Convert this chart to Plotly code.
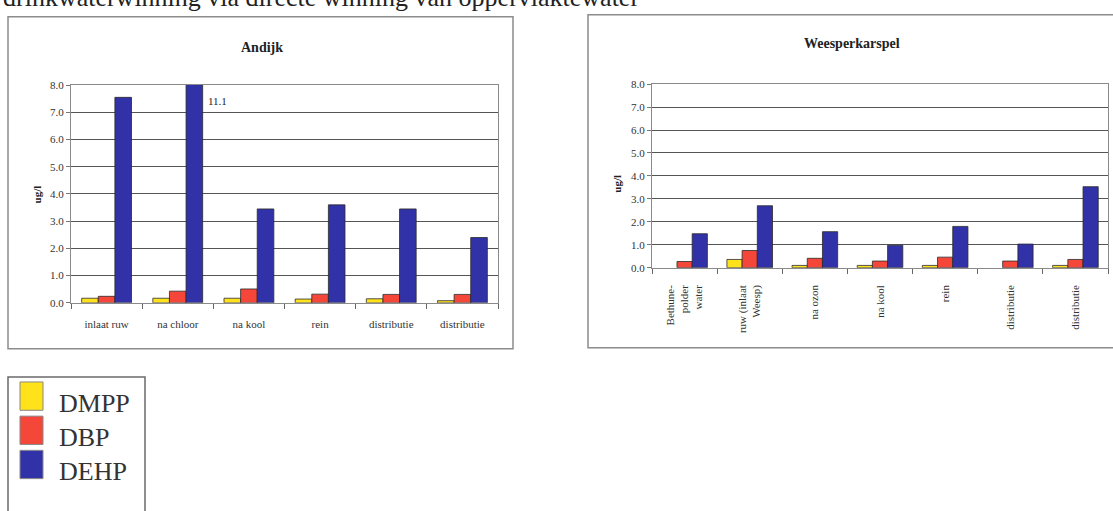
import plotly.graph_objects as go

# --- data -----------------------------------------------------------------
series_names = ["DMPP", "DBP", "DEHP"]
series_colors = ["#FFE21A", "#F4473A", "#3232A8"]

andijk_categories = ["inlaat ruw", "na chloor", "na kool", "rein", "distributie", "distributie"]
andijk_dmpp = [0.17, 0.17, 0.17, 0.14, 0.15, 0.08]
andijk_dbp = [0.24, 0.43, 0.51, 0.32, 0.31, 0.31]
andijk_dehp = [7.55, 11.1, 3.45, 3.6, 3.45, 2.4]

weesp_categories = ["Bethune-<br>polder<br>water", "ruw (inlaat<br>Weesp)", "na ozon",
                    "na kool", "rein", "distributie", "distributie"]
weesp_dmpp = [None, 0.36, 0.1, 0.1, 0.1, None, 0.1]
weesp_dbp = [0.27, 0.75, 0.41, 0.29, 0.46, 0.29, 0.36]
weesp_dehp = [1.48, 2.7, 1.57, 0.98, 1.8, 1.03, 3.53]

y_ticks = [0, 1, 2, 3, 4, 5, 6, 7, 8]

W, H = 1113, 511
SERIF = "Liberation Serif, Times New Roman, serif"


def px(x):
    return x / W


def py(y):
    return 1 - y / H


fig = go.Figure()

charts = [
    ("x", "y", andijk_categories, [andijk_dmpp, andijk_dbp, andijk_dehp]),
    ("x2", "y2", weesp_categories, [weesp_dmpp, weesp_dbp, weesp_dehp]),
]
for xa, ya, cats, values in charts:
    xs = list(range(len(cats)))
    for name, color, vals in zip(series_names, series_colors, values):
        fig.add_trace(go.Bar(
            x=xs, y=vals, name=name, xaxis=xa, yaxis=ya,
            marker=dict(color=color, line=dict(color="#2a2a2a", width=0.8)),
            showlegend=False,
        ))


def x_axis(domain, cats, angle, standoff):
    n = len(cats)
    return dict(
        domain=domain, range=[-0.5, n - 0.5],
        tickvals=list(range(n)), ticktext=cats, tickangle=angle,
        ticks="", ticklabelstandoff=standoff,
        minor=dict(tickvals=[i - 0.5 for i in range(n + 1)], ticks="outside",
                   ticklen=5, tickcolor="#666", showgrid=False),
        showgrid=False, zeroline=False,
        showline=True, linecolor="#8a8a8a", linewidth=1, mirror=True,
        tickfont=dict(family=SERIF, size=11, color="#333"),
        fixedrange=True,
    )


def y_axis(domain, anchor):
    return dict(
        domain=domain, anchor=anchor, range=[0, 8],
        tickvals=y_ticks, tickformat=".1f",
        ticks="outside", ticklen=4, tickcolor="#777",
        showgrid=True, gridcolor="#555", gridwidth=1, zeroline=False,
        showline=True, linecolor="#8a8a8a", linewidth=1, mirror=True,
        tickfont=dict(family=SERIF, size=11, color="#333"),
        fixedrange=True,
    )


fig.update_layout(
    width=W, height=H,
    margin=dict(l=0, r=0, t=0, b=0),
    paper_bgcolor="white", plot_bgcolor="white",
    barmode="group", bargap=0.3, bargroupgap=0,
    xaxis=x_axis([px(71), px(498)], andijk_categories, 0, 11),
    yaxis=y_axis([py(304), py(81)], "x"),
    xaxis2=dict(x_axis([px(652), px(1108)], weesp_categories, -90, 12), anchor="y2"),
    yaxis2=y_axis([py(268), py(80)], "x2"),
)
fig.layout.xaxis.anchor = "y"

shapes = [
    # chart frames
    dict(type="rect", xref="paper", yref="paper", x0=px(8), x1=px(513), y0=py(351), y1=py(11),
         line=dict(color="#8c8c8c", width=1.5)),
    dict(type="rect", xref="paper", yref="paper", x0=px(588), x1=px(1125), y0=py(350), y1=py(9),
         line=dict(color="#8c8c8c", width=1.5)),
    # legend frame
    dict(type="rect", xref="paper", yref="paper", x0=px(8), x1=px(145), y0=py(530), y1=py(380),
         line=dict(color="#6a6a6a", width=1.5)),
]

annotations = [
    dict(text="drinkwaterwinning via directe winning van oppervlaktewater",
         xref="paper", yref="paper", x=px(1), y=py(8), xanchor="left", yanchor="bottom",
         showarrow=False, font=dict(family=SERIF, size=26, color="#222")),
    dict(text="<b>Andijk</b>", xref="paper", yref="paper", x=px(262), y=py(42),
         xanchor="center", yanchor="middle", showarrow=False,
         font=dict(family=SERIF, size=14, color="#222")),
    dict(text="<b>Weesperkarspel</b>", xref="paper", yref="paper", x=px(852), y=py(38),
         xanchor="center", yanchor="middle", showarrow=False,
         font=dict(family=SERIF, size=14, color="#222")),
    dict(text="<b>ug/l</b>", xref="paper", yref="paper", x=px(37), y=py(193),
         xanchor="center", yanchor="middle", textangle=-90, showarrow=False,
         font=dict(family=SERIF, size=11, color="#222")),
    dict(text="<b>ug/l</b>", xref="paper", yref="paper", x=px(617), y=py(182),
         xanchor="center", yanchor="middle", textangle=-90, showarrow=False,
         font=dict(family=SERIF, size=11, color="#222")),
    # value of the clipped DEHP bar after chlorination
    dict(text=f"{andijk_dehp[1]}", xref="x", yref="y", x=1, y=7.4, xshift=40,
         xanchor="center", yanchor="middle", showarrow=False,
         font=dict(family=SERIF, size=11, color="#222")),
]

# manual legend
for i, (name, color) in enumerate(zip(series_names, series_colors)):
    top = 385 + i * 35
    shapes.append(dict(type="rect", xref="paper", yref="paper",
                       x0=px(20), x1=px(43), y0=py(top + 29), y1=py(top),
                       fillcolor=color, line=dict(color="#888", width=1)))
    annotations.append(dict(text=name, xref="paper", yref="paper", x=px(57), y=py(top + 22),
                            xanchor="left", yanchor="middle", showarrow=False,
                            font=dict(family=SERIF, size=26, color="#333")))

fig.update_layout(shapes=shapes, annotations=annotations)

fig.write_html("out.html")
